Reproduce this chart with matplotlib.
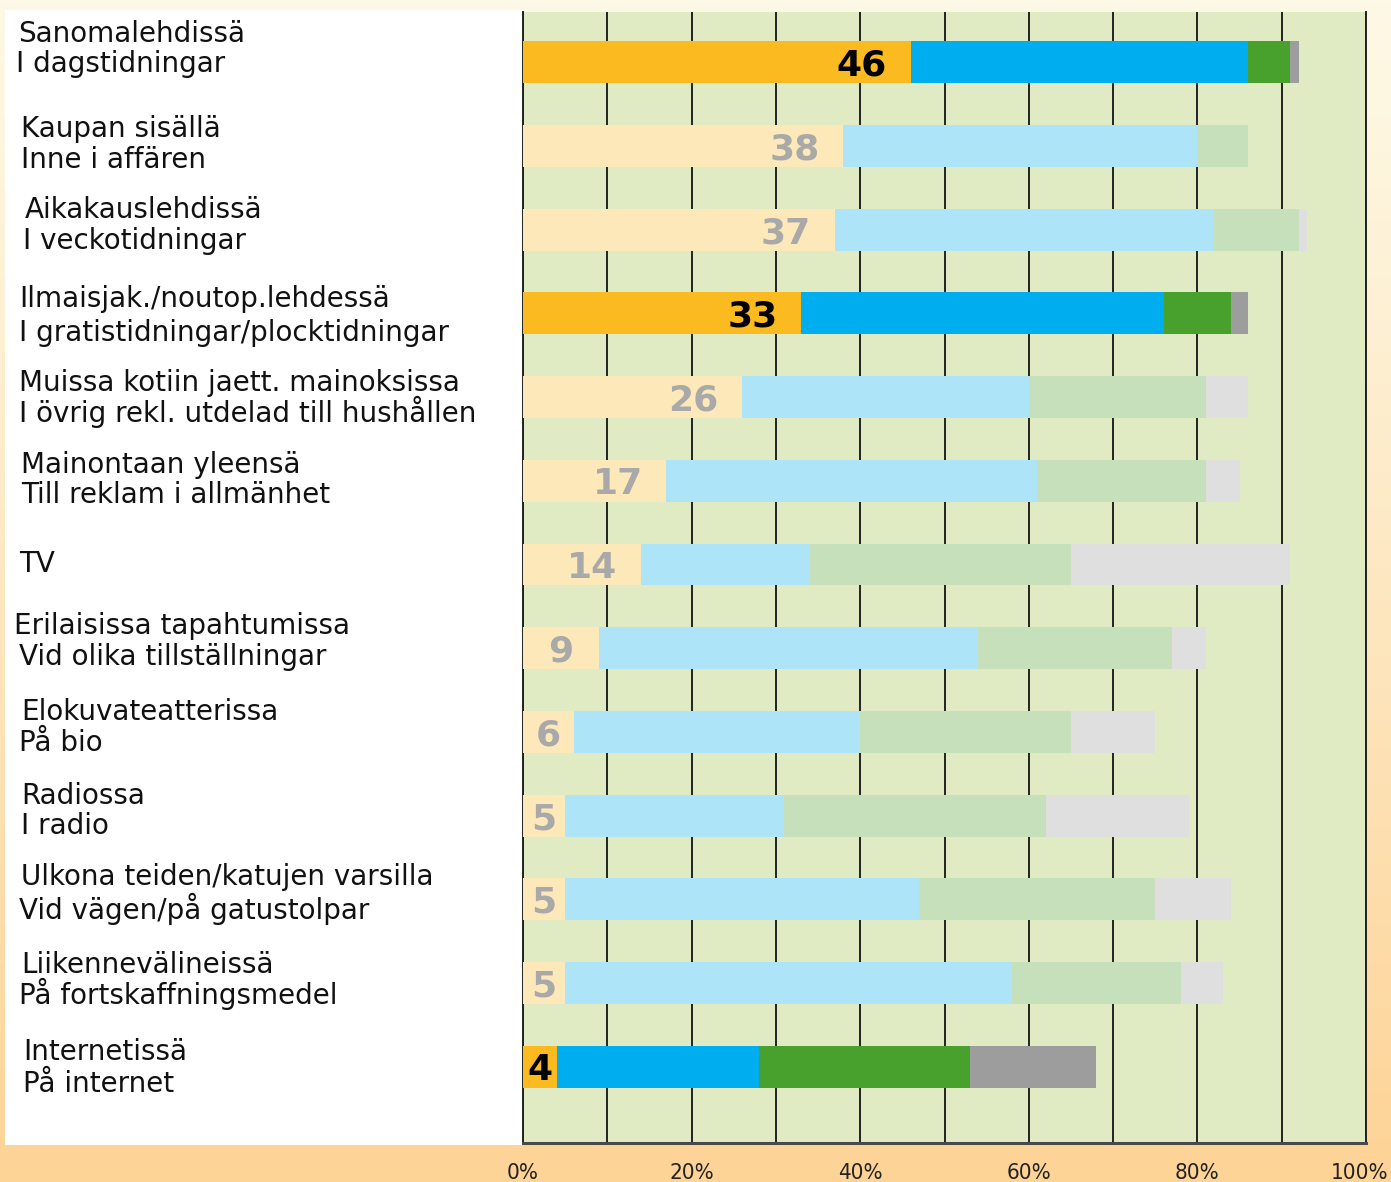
import numpy as np
import matplotlib.pyplot as plt
from matplotlib.patches import Rectangle
from matplotlib.transforms import blended_transform_factory

labels_fi = ["Sanomalehdissä", "Kaupan sisällä", "Aikakauslehdissä",
             "Ilmaisjak./noutop.lehdessä", "Muissa kotiin jaett. mainoksissa",
             "Mainontaan yleensä", "TV", "Erilaisissa tapahtumissa",
             "Elokuvateatterissa", "Radiossa", "Ulkona teiden/katujen varsilla",
             "Liikennevälineissä", "Internetissä"]
labels_sv = ["I dagstidningar", "Inne i affären", "I veckotidningar",
             "I gratistidningar/plocktidningar", "I övrig rekl. utdelad till hushållen",
             "Till reklam i allmänhet", "", "Vid olika tillställningar",
             "På bio", "I radio", "Vid vägen/på gatustolpar",
             "På fortskaffningsmedel", "På internet"]

first = [46, 38, 37, 33, 26, 17, 14, 9, 6, 5, 5, 5, 4]
second = [40, 42, 45, 43, 34, 44, 20, 45, 34, 26, 42, 53, 24]
third = [5, 6, 10, 8, 21, 20, 31, 23, 25, 31, 28, 20, 25]
fourth = [1, 0, 1, 2, 5, 4, 26, 4, 10, 17, 9, 5, 15]
highlight = [True, False, False, True, False, False, False,
             False, False, False, False, False, True]
xticks = [0, 20, 40, 60, 80, 100]

strong = ['#fbba20', '#00aeef', '#48a12c', '#9d9d9d']
pale = ['#fde8ba', '#aee4f8', '#c5e0bb', '#dedfde']

W, H = 1391, 1182
PX = 1131 / 13.51  # pixels per bar unit

fig = plt.figure(figsize=(W / 100, H / 100), dpi=100)

# background gradient + white label panel
bg = fig.add_axes([0, 0, 1, 1])
g = np.linspace(0, 1, 256)[:, None, None] ** 1.1
c_top = np.array([254, 249, 230]) / 255
c_bot = np.array([253, 211, 150]) / 255
bg.imshow(c_top + (c_bot - c_top) * g, aspect='auto', extent=[0, 1, 0, 1], origin='upper')
bg.add_patch(Rectangle((5 / W, 1 - 1145 / H), (523 - 5) / W, (1145 - 10) / H,
                       color='white', lw=0))
bg.set_xlim(0, 1)
bg.set_ylim(0, 1)
bg.axis('off')

ax = fig.add_axes([523 / W, 1 - 1143 / H, (1366 - 523) / W, (1143 - 12) / H])
ax.set_facecolor('#e1ebc3')

y = np.arange(len(first))
left = np.zeros(len(first))
for k, series in enumerate([first, second, third, fourth]):
    cols = [strong[k] if h else pale[k] for h in highlight]
    ax.barh(y, series, left=left, height=0.5, color=cols, lw=0, zorder=3)
    left += np.array(series)

# values in first segment
for i, v in enumerate(first):
    col = 'black' if highlight[i] else '#a9a9a9'
    if v >= 12:
        x, ha = v - 2.8, 'right'
    else:
        x, ha = v / 2, 'center'
    ax.text(x, i + 13.5 / PX, str(v), ha=ha, va='baseline', fontsize=26,
            fontweight='bold', color=col, zorder=5)

# category labels (two lines: Finnish / Swedish)
tr = blended_transform_factory(fig.transFigure, ax.transData)
x1 = [18, 21, 25, 19, 19, 21, 19, 14, 21, 21, 21, 21, 23]
x2 = [16, 21, 23, 19, 19, 21, 19, 19, 19, 21, 19, 19, 23]
off1 = [-30, -19, -22, -16, -16, -18, -3, -24, -22, -22, -24, -20, -17]
off2 = [0, 12, 9, 18, 15, 12, 0, 7, 9, 8, 10, 11, 15]
for i in range(len(labels_fi)):
    ax.text(x1[i] / W, i + (off1[i] + 10) / PX, labels_fi[i], transform=tr,
            ha='left', va='baseline', fontsize=20, color='#111111', clip_on=False)
    if labels_sv[i]:
        ax.text(x2[i] / W, i + (off2[i] + 10) / PX, labels_sv[i], transform=tr,
                ha='left', va='baseline', fontsize=20, color='#111111', clip_on=False)

ax.set_xlim(0, 100)
ax.set_ylim(12.91, -0.6)
ax.set_xticks(np.arange(0, 101, 10))
ax.set_xticklabels([])
ax.set_yticks([])
ax.tick_params(axis='x', length=0)

# percent labels under the axis
for t in xticks:
    ax.text(min(t, 99.3), -20 / 1131, f"{t}%", transform=ax.get_xaxis_transform(),
            ha='center', va='top', family='DejaVu Sans', fontstretch='condensed',
            fontsize=16, color='#222222', clip_on=False)

ax.grid(axis='x', color='#222222', lw=1.4, zorder=1)
ax.set_axisbelow(True)
ax.spines['top'].set_visible(False)
ax.spines['right'].set_color('#222222')
ax.spines['right'].set_linewidth(1.4)
ax.spines['left'].set_color('#222222')
ax.spines['left'].set_linewidth(1.4)
ax.spines['bottom'].set_color('#4a4a4a')
ax.spines['bottom'].set_linewidth(2.2)

fig.savefig('out.png', dpi=100)
